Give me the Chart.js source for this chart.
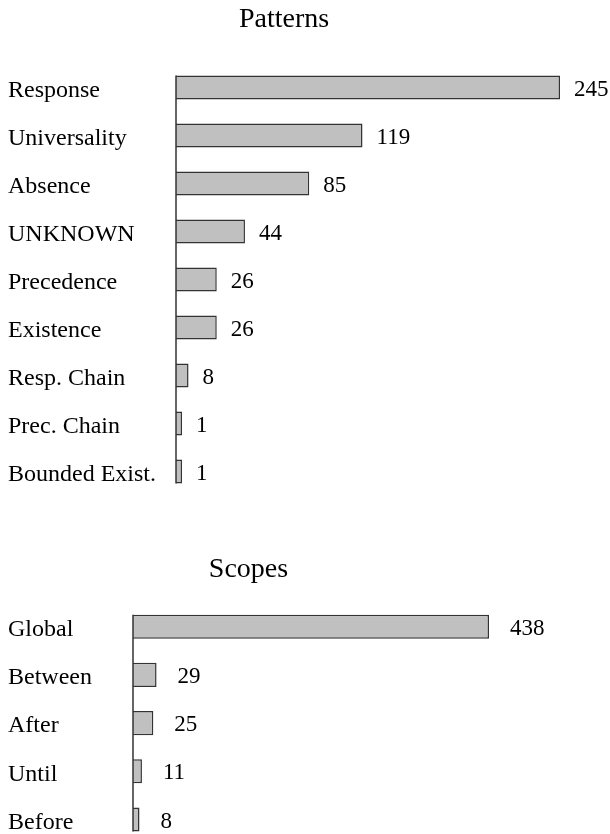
<!DOCTYPE html>
<html>
<head>
<meta charset="utf-8">
<script src="https://cdn.jsdelivr.net/npm/chart.js@4.4.1/dist/chart.umd.min.js"></script>
<style>
  html, body { margin: 0; padding: 0; background: #fff; overflow: hidden; width: 610px; height: 834px; }
  .box { position: absolute; left: 0; width: 610px; }
  #patternsBox { top: 0; height: 510px; }
  #scopesBox { top: 530px; height: 328px; }
</style>
</head>
<body>
<div class="box" id="patternsBox"><canvas id="patternsChart"></canvas></div>
<div class="box" id="scopesBox"><canvas id="scopesChart"></canvas></div>
<script>
var pattern_labels = ['Response', 'Universality', 'Absence', 'UNKNOWN', 'Precedence',
                      'Existence', 'Resp. Chain', 'Prec. Chain', 'Bounded Exist.'];
var pattern_counts = [245, 119, 85, 44, 26, 26, 8, 1, 1];

var scope_labels = ['Global', 'Between', 'After', 'Until', 'Before'];
var scope_counts = [438, 29, 25, 11, 8];

var serif = '"Liberation Serif", "Times New Roman", serif';

// draws the vertical axis line (only as long as the bars) and the count next to each bar
var barExtras = {
    id: 'barExtras',
    afterDatasetsDraw: function(chart, args, opts) {
        var ctx = chart.ctx;
        var bars = chart.getDatasetMeta(0).data;
        var values = chart.data.datasets[0].data;
        var first = bars[0], last = bars[bars.length - 1];
        var x0 = chart.chartArea.left;

        ctx.save();
        ctx.strokeStyle = '#333';
        ctx.lineWidth = 1.5;
        ctx.beginPath();
        ctx.moveTo(x0, first.y - first.height / 2);
        ctx.lineTo(x0, last.y + last.height / 2);
        ctx.stroke();

        ctx.font = '23px ' + serif;
        ctx.fillStyle = '#000';
        ctx.textAlign = 'left';
        ctx.textBaseline = 'middle';
        bars.forEach(function(bar, i) {
            ctx.fillText(values[i], bar.x + opts.gap, bar.y + 2);
        });
        ctx.restore();
    }
};

function make_chart(canvas_id, title, labels, counts, axis_width, padding, title_padding, gap) {
    return new Chart(document.getElementById(canvas_id).getContext('2d'), {
        type: 'bar',
        data: {
            labels: labels,
            datasets: [{
                data: counts,
                backgroundColor: '#c0c0c0',
                borderColor: '#333',
                borderWidth: 1.5,
                categoryPercentage: 0.5,
                barPercentage: 1,
                minBarLength: 6
            }]
        },
        plugins: [barExtras],
        options: {
            indexAxis: 'y',
            responsive: true,
            maintainAspectRatio: false,
            animation: false,
            layout: { padding: padding },
            scales: {
                x: {
                    display: false,
                    min: 0,
                    max: Math.max.apply(null, counts)
                },
                y: {
                    afterFit: function(scale) { scale.width = axis_width; },
                    grid: { display: false },
                    border: { display: false },
                    ticks: {
                        crossAlign: 'far',
                        color: '#000',
                        padding: 0,
                        labelOffset: 3,
                        font: { family: serif, size: 24 }
                    }
                }
            },
            plugins: {
                legend: { display: false },
                tooltip: { enabled: false },
                title: {
                    display: true,
                    text: title,
                    color: '#000',
                    font: { family: serif, size: 28, weight: 'normal' },
                    padding: title_padding
                },
                barExtras: { gap: gap }
            }
        }
    });
}

make_chart('patternsChart', 'Patterns', pattern_labels, pattern_counts, 168,
           { left: 8, right: 50, top: 0, bottom: 5 }, { top: 3, bottom: 27 }, 14);

make_chart('scopesChart', 'Scopes', scope_labels, scope_counts, 125,
           { left: 8, right: 121, top: 0, bottom: 7 }, { top: 23, bottom: 16 }, 21);
</script>
</body>
</html>
